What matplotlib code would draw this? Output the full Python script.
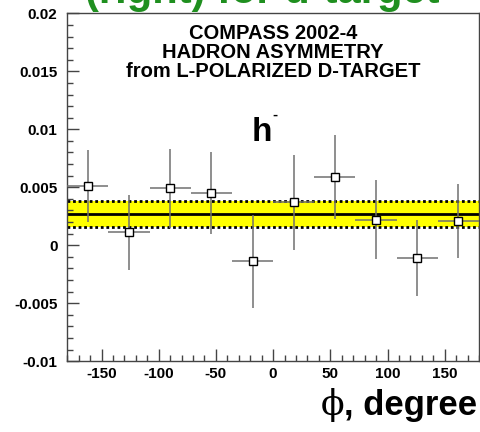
import matplotlib
matplotlib.use('Agg')
import matplotlib.pyplot as plt
from matplotlib.ticker import MultipleLocator, FuncFormatter

# Hadron asymmetry vs phi, h- on deuteron target
phi = [-162, -126, -90, -54, -18, 18, 54, 90, 126, 162]
asym = [0.0051, 0.0011, 0.0049, 0.0045, -0.0014, 0.0037, 0.0059, 0.0022, -0.0011, 0.0021]
asym_err = [0.0031, 0.0032, 0.0034, 0.0035, 0.0040, 0.0041, 0.0036, 0.0034, 0.0033, 0.0032]
phi_halfbin = [18, 18, 18, 18, 18, 18, 18, 18, 18, 18]

# constant fit and its error band
fit_mean = 0.0027
fit_err = 0.00115

plt.rcParams['font.family'] = ['Liberation Sans', 'DejaVu Sans']

fig = plt.figure(figsize=(4.8, 4.32), dpi=100)
ax = fig.add_axes([0.140, 0.164, 0.858, 0.805])

ax.axhspan(fit_mean - fit_err, fit_mean + fit_err, color='#ffff00', zorder=1, lw=0)
ax.axhline(fit_mean, color='black', lw=2, zorder=2)
ax.axhline(fit_mean - fit_err, color='black', lw=2, ls=(0, (1, 1)), zorder=2)
ax.axhline(fit_mean + fit_err, color='black', lw=2, ls=(0, (1, 1)), zorder=2)

ax.errorbar(phi, asym, yerr=asym_err, xerr=phi_halfbin, fmt='s', ms=6,
            mfc='white', mec='black', mew=1, ecolor='#707070', elinewidth=1.1,
            capsize=0, zorder=3)

ax.set_xlim(-180, 180)
ax.set_ylim(-0.01, 0.02)
ax.xaxis.set_major_locator(MultipleLocator(50))
ax.xaxis.set_minor_locator(MultipleLocator(10))
ax.yaxis.set_major_locator(MultipleLocator(0.005))
ax.yaxis.set_minor_locator(MultipleLocator(0.001))
ax.yaxis.set_major_formatter(FuncFormatter(lambda v, p: '%g' % round(v, 4)))
ax.xaxis.set_major_formatter(FuncFormatter(lambda v, p: '%d' % v))
ax.tick_params(which='both', direction='in', top=False, right=False, color='#444444')
ax.tick_params(which='major', length=8.5, width=1, labelsize=11)
ax.tick_params(which='minor', length=4.3, width=1)
ax.tick_params(axis='y', pad=7)
ax.tick_params(axis='x', pad=4)
for lab in ax.get_xticklabels() + ax.get_yticklabels():
    lab.set_fontweight('bold')
for s in ax.spines.values():
    s.set_color('#444444')
    s.set_linewidth(1)

ax.text(0, 0.0191, 'COMPASS 2002-4\nHADRON ASYMMETRY\nfrom L-POLARIZED D-TARGET',
        ha='center', va='top', fontsize=14.5, fontweight='bold', linespacing=1.0)

# h- label
fig.text(252 / 480, 1 - 141 / 432, 'h', ha='left', va='baseline', fontsize=24, fontweight='bold')
fig.text(272 / 480, 1 - 119 / 432, '-', ha='left', va='baseline', fontsize=11, fontweight='bold')

# axis title
fig.text(477 / 480, 1 - 415 / 432, ', degree', ha='right', va='baseline', fontsize=25, fontweight='bold')
fig.text(321 / 480, 1 - 415 / 432, '\u03d5', ha='left', va='baseline', fontsize=25,
         family=['DejaVu Serif'])

# slide title cut off at the top
fig.text(85 / 480, 1 - 3 / 432, '(right) for d-target', ha='left', va='baseline',
         fontsize=30, fontweight='bold', color='#1f8f1f')

fig.savefig('out.png', dpi=100)
